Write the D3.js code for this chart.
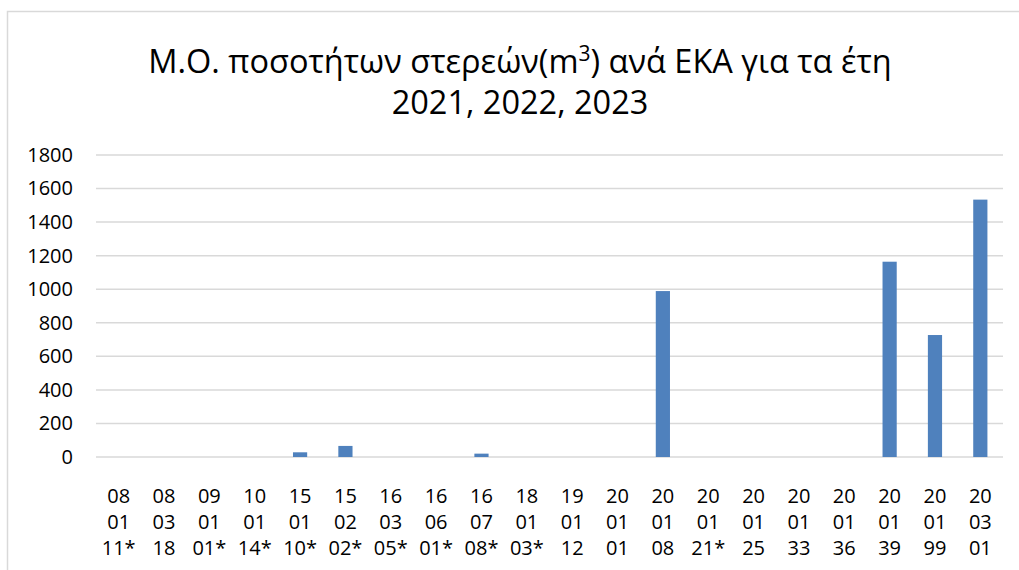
<!DOCTYPE html>
<html>
<head>
<meta charset="utf-8">
<script src="https://cdn.jsdelivr.net/npm/d3@7"></script>
<style>
  body { margin: 0; background: #fff; }
  text { font-family: "Open Sans", Lato, sans-serif; fill: #000; }
</style>
</head>
<body>
<div class="chart"></div>
<script>
// EKA codes, split in three rows as in the original labels
var codeTop = ["08", "08", "09", "10", "15", "15", "16", "16", "16", "18", "19", "20", "20", "20", "20", "20", "20", "20", "20", "20"];
var codeMid = ["01", "03", "01", "01", "01", "02", "03", "06", "07", "01", "01", "01", "01", "01", "01", "01", "01", "01", "01", "03"];
var codeBot = ["11*", "18", "01*", "14*", "10*", "02*", "05*", "01*", "08*", "03*", "12", "01", "08", "21*", "25", "33", "36", "39", "99", "01"];
var values = [0, 0, 0, 0, 28, 66, 0, 0, 20, 0, 0, 0, 989, 0, 0, 0, 0, 1164, 727, 1534];
var yTicks = [0, 200, 400, 600, 800, 1000, 1200, 1400, 1600, 1800];

var svgWidth = 1019;
var svgHeight = 570;
var margin = { top: 155, right: 16, bottom: 113, left: 96 };
var width = svgWidth - margin.left - margin.right;
var height = svgHeight - margin.top - margin.bottom;

var svg = d3.select(".chart")
  .append("svg")
  .attr("width", svgWidth)
  .attr("height", svgHeight);

// chart area border
svg.append("rect")
  .attr("x", 7.5)
  .attr("y", 11.5)
  .attr("width", 1040)
  .attr("height", 600)
  .attr("fill", "none")
  .attr("stroke", "#d9d9d9")
  .attr("stroke-width", 1.5);

var title = svg.append("text")
  .attr("text-anchor", "middle")
  .attr("font-size", 32.5);
title.append("tspan").attr("x", 520).attr("y", 73).text("Μ.Ο. ποσοτήτων στερεών(m");
title.append("tspan").attr("dy", -12).attr("font-size", 21).text("3");
title.append("tspan").attr("dy", 12).text(") ανά ΕΚΑ για τα έτη");
svg.append("text")
  .attr("x", 520)
  .attr("y", 114)
  .attr("text-anchor", "middle")
  .attr("font-size", 32.5)
  .text("2021, 2022, 2023");

var chart = svg.append("g")
  .attr("transform", "translate(" + margin.left + "," + margin.top + ")");

var xScale = d3.scaleBand()
  .domain(d3.range(values.length))
  .range([0, width])
  .paddingInner(0.687)
  .paddingOuter(0.3435);

var yScale = d3.scaleLinear()
  .domain([0, 1800])
  .range([height, 0]);

// gridlines
chart.selectAll(".grid")
  .data(yTicks)
  .enter()
  .append("line")
  .attr("x1", 0)
  .attr("x2", width)
  .attr("y1", function(d) { return yScale(d); })
  .attr("y2", function(d) { return yScale(d); })
  .attr("stroke", "#d9d9d9")
  .attr("stroke-width", 1.5);

var leftAxis = d3.axisLeft(yScale)
  .tickValues(yTicks)
  .tickFormat(d3.format("d"))
  .tickSize(0)
  .tickPadding(23);

var yAxis = chart.append("g").call(leftAxis);
yAxis.select(".domain").remove();
yAxis.selectAll("text")
  .attr("font-size", 20)
  .attr("font-family", "'Open Sans', Lato, sans-serif")
  .attr("fill", "#000");

chart.selectAll(".bar")
  .data(values)
  .enter()
  .append("rect")
  .attr("x", function(d, i) { return xScale(i); })
  .attr("width", xScale.bandwidth())
  .attr("y", function(d) { return yScale(d); })
  .attr("height", function(d) { return height - yScale(d); })
  .attr("fill", "#4f81bd");

function labelX(d, i) { return xScale(i) + xScale.bandwidth() / 2; }

var labels = chart.selectAll(".xlabel")
  .data(values)
  .enter()
  .append("text")
  .attr("text-anchor", "middle")
  .attr("font-size", 20);

labels.append("tspan")
  .attr("x", labelX)
  .attr("y", height + 46)
  .text(function(d, i) { return codeTop[i]; });
labels.append("tspan")
  .attr("x", labelX)
  .attr("y", height + 72)
  .text(function(d, i) { return codeMid[i]; });
labels.append("tspan")
  .attr("x", labelX)
  .attr("y", height + 98)
  .text(function(d, i) { return codeBot[i]; });
</script>
</body>
</html>
